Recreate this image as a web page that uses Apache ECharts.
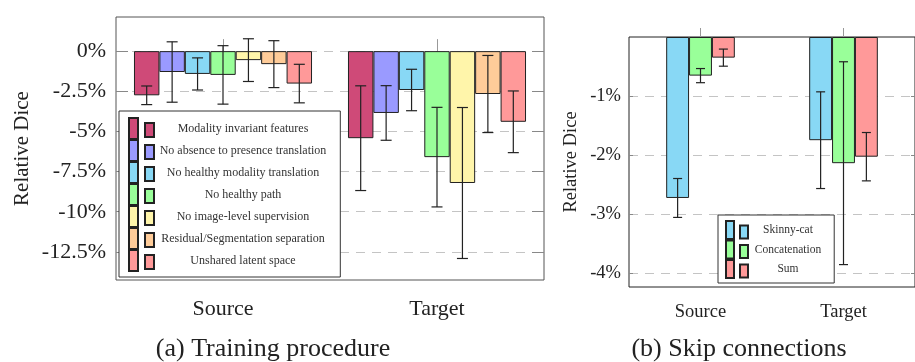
<!DOCTYPE html>
<html><head><meta charset="utf-8">
<script src="https://cdn.jsdelivr.net/npm/echarts@6/dist/echarts.min.js"></script>
<style>html,body{margin:0;padding:0;background:#fff}#c{width:915px;height:362px}</style>
</head><body><div id="c"></div>
<script>
// ---- data ----
const categories = ['Source', 'Target'];
const trainNames = ['Modality invariant features', 'No absence to presence translation', 'No healthy modality translation', 'No healthy path', 'No image-level supervision', 'Residual/Segmentation separation', 'Unshared latent space'];
const trainMeans = [[-2.75, -5.42], [-1.3, -3.85], [-1.42, -2.42], [-1.48, -6.6], [-0.56, -8.21], [-0.81, -2.67], [-2.02, -4.4]];
const trainErrors = [[0.58, 3.26], [1.88, 1.7], [1.0, 1.29], [1.82, 3.1], [1.33, 4.7], [1.46, 2.4], [1.2, 1.92]];
const trainTicks = [0, -2.5, -5, -7.5, -10, -12.5];
const skipNames = ['Skinny-cat', 'Concatenation', 'Sum'];
const skipMeans = [[-2.73, -1.75], [-0.655, -2.14], [-0.35, -2.03]];
const skipErrors = [[0.33, 0.82], [0.12, 1.72], [0.145, 0.41]];
const skipTicks = [-1, -2, -3, -4];

// ---- style ----
const trainColors = ['#cf4a78', '#9a9aff', '#88d8f5', '#99ff99', '#fff5aa', '#ffcc99', '#ff9999'];
const skipColors = ['#88d8f5', '#99ff99', '#ff9999'];
const FONT = "'Liberation Serif','DejaVu Serif',serif";

function errSeries(name, gridIdx, i, n, gap, means, errs, cap) {
  return {
    type: 'custom', name: name, xAxisIndex: gridIdx * 2, yAxisIndex: gridIdx * 2, z: 5, silent: true,
    data: means.map((m, k) => [k, m, errs[k]]),
    encode: { x: 0, y: 1 },
    renderItem: function (params, api) {
      const x = api.value(0), y = api.value(1), e = api.value(2);
      const band = api.size([1, 0])[0];
      const bw = band * (1 - gap) / n;
      const off = (i - (n - 1) / 2) * bw;
      const cx = api.coord([x, y])[0] + off;
      const t = api.coord([x, y + e])[1];
      const b = api.coord([x, y - e])[1];
      const st = { stroke: '#222', lineWidth: 1.2 };
      return { type: 'group', children: [
        { type: 'line', shape: { x1: cx, y1: t, x2: cx, y2: b }, style: st },
        { type: 'line', shape: { x1: cx - cap, y1: t, x2: cx + cap, y2: t }, style: st },
        { type: 'line', shape: { x1: cx - cap, y1: b, x2: cx + cap, y2: b }, style: st }
      ] };
    }
  };
}

const series = [];
const trainGap = 0.168, skipGap = 0.52;
trainNames.forEach((nm, i) => {
  series.push({ type: 'bar', name: nm, xAxisIndex: 0, yAxisIndex: 0, data: trainMeans[i],
    barGap: '0%', barCategoryGap: (trainGap * 100) + '%',
    itemStyle: { color: trainColors[i], borderColor: '#222', borderWidth: 1 } });
});
trainNames.forEach((nm, i) => series.push(errSeries('err-a' + i, 0, i, trainNames.length, trainGap, trainMeans[i], trainErrors[i], 5.5)));
skipNames.forEach((nm, i) => {
  series.push({ type: 'bar', name: nm, xAxisIndex: 2, yAxisIndex: 2, data: skipMeans[i],
    barGap: '0%', barCategoryGap: (skipGap * 100) + '%',
    itemStyle: { color: skipColors[i], borderColor: '#222', borderWidth: 1 } });
});
skipNames.forEach((nm, i) => series.push(errSeries('err-b' + i, 1, i, skipNames.length, skipGap, skipMeans[i], skipErrors[i], 4.5)));

function xAx(grid, pos, len, fs, margin, showLabel) {
  return { type: 'category', gridIndex: grid, position: pos, data: categories,
    axisLine: { show: false },
    axisTick: { show: true, alignWithLabel: true, inside: false, length: len, lineStyle: { color: '#999', width: 1 } },
    axisLabel: { show: showLabel, fontFamily: FONT, fontSize: fs, color: '#222', margin: margin },
    splitLine: { show: false } };
}
function yAx(grid, pos, min, max, ticks, fs, showLabel, name, nameGap, nameFs, tickLen, labelMargin) {
  return { type: 'value', gridIndex: grid, position: pos, min: min, max: max,
    name: name, nameLocation: 'middle', nameRotate: 90, nameGap: nameGap,
    nameTextStyle: { fontFamily: FONT, fontSize: nameFs, color: '#222' },
    axisLine: { show: false },
    axisTick: { show: true, inside: true, length: tickLen, customValues: ticks, lineStyle: { color: '#888' } },
    axisLabel: { show: showLabel, customValues: ticks, formatter: v => v + '%', fontFamily: FONT, fontSize: fs, color: '#222', margin: labelMargin },
    splitLine: { show: showLabel, lineStyle: { color: '#c4c4c4', type: [9, 7], width: 1.2 } } };
}

const legendBase = {
  orient: 'vertical', backgroundColor: '#fff', borderWidth: 1, borderColor: '#333',
  selectedMode: false, align: 'left', z: 10
};

const option = {
  animation: false,
  grid: [
    { left: 116, top: 17, width: 428, height: 263, show: true, borderColor: '#555', borderWidth: 1, backgroundColor: 'transparent' },
    { left: 629, top: 37, width: 292, height: 250, show: true, borderColor: '#222', borderWidth: 1, backgroundColor: 'transparent' }
  ],
  xAxis: [
    xAx(0, 'bottom', 12, 22, 18, true),
    xAx(0, 'top', 12, 22, 8, false),
    xAx(1, 'bottom', 10, 18.5, 16, true),
    xAx(1, 'top', 9, 18.5, 8, false)
  ],
  yAxis: [
    yAx(0, 'left', -14.25, 2.125, trainTicks, 22, true, 'Relative Dice', 83, 21, 12, 10),
    yAx(0, 'right', -14.25, 2.125, trainTicks, 22, false, '', 0, 10, 12, 8),
    yAx(1, 'left', -4.24, 0, skipTicks, 18.5, true, 'Relative Dice', 48, 18.5, 4, 8),
    yAx(1, 'right', -4.24, 0, skipTicks, 18.5, false, '', 0, 10, 4, 8)
  ],
  legend: [
    Object.assign({}, legendBase, {
      data: trainNames, left: 119, top: 111, padding: [6, 14, 5, 9],
      itemWidth: 25, itemHeight: 21, itemGap: -1,
      icon: 'path://M0 0H9V21H0Z M16 5H25V19H16Z',
      formatter: '{c|{name}}',
      textStyle: { rich: { c: { width: 168, align: 'center', fontFamily: FONT, fontSize: 12, color: '#333' } } }
    }),
    Object.assign({}, legendBase, {
      data: skipNames, left: 718, top: 215, padding: [5, 13, 4, 7],
      itemWidth: 22, itemHeight: 18, itemGap: -0.5,
      icon: 'path://M0 0H8V18H0Z M14 4.5H22V17.5H14Z',
      formatter: '{c|{name}}',
      textStyle: { rich: { c: { width: 70, align: 'center', fontFamily: FONT, fontSize: 11.5, color: '#333' } } }
    })
  ],
  graphic: [
    { type: 'text', x: 273, y: 349, style: { text: '(a) Training procedure', font: '26px ' + FONT, fill: '#222', textAlign: 'center', textVerticalAlign: 'middle' } },
    { type: 'text', x: 739, y: 349, style: { text: '(b) Skip connections', font: '26px ' + FONT, fill: '#222', textAlign: 'center', textVerticalAlign: 'middle' } }
  ],
  series: series
};
const chart = echarts.init(document.getElementById('c'), null, { renderer: 'canvas' });
chart.setOption(option);
</script></body></html>
